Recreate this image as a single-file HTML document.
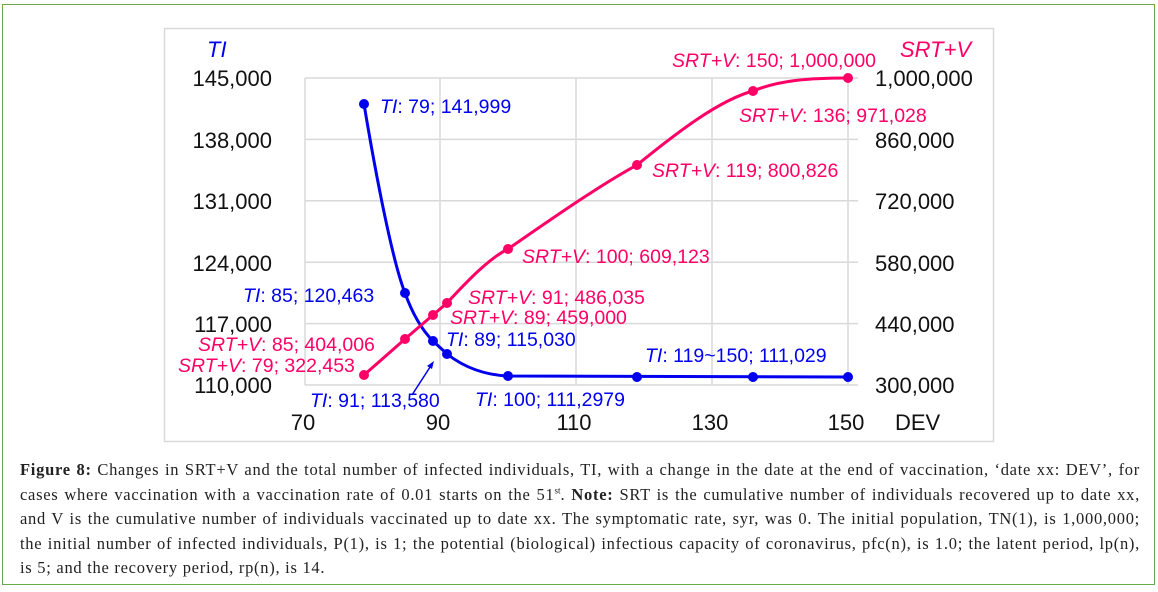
<!DOCTYPE html>
<html><head><meta charset="utf-8"><style>
body{margin:0;background:#fff;width:1158px;height:592px;overflow:hidden;position:relative;font-family:"Liberation Sans",sans-serif}
.frame{position:absolute;left:2px;top:4px;width:1151px;height:579px;border:1.5px solid #6aa84f}
.cap{position:absolute;left:20px;top:458px;width:1120px;font-family:"Liberation Serif",serif;font-size:16.5px;letter-spacing:0.72px;line-height:24.5px;text-align:justify;color:#222}
.cap sup{line-height:0;font-size:9px;letter-spacing:0}
</style></head><body>
<div class="frame"></div>
<svg width="1158" height="592" style="position:absolute;left:0;top:0">
<rect x="164.5" y="28.5" width="829" height="413" fill="#fff" stroke="#d9d9d9" stroke-width="1.5"/>
<g stroke="#d9d9d9" stroke-width="1.5">
<line x1="305" y1="78" x2="858" y2="78"/><line x1="305" y1="139.4" x2="858" y2="139.4"/><line x1="305" y1="200.8" x2="858" y2="200.8"/><line x1="305" y1="262.2" x2="858" y2="262.2"/><line x1="305" y1="323.6" x2="858" y2="323.6"/><line x1="305" y1="385" x2="858" y2="385"/>
<line x1="305" y1="78" x2="305" y2="385"/><line x1="440" y1="78" x2="440" y2="385"/><line x1="576" y1="78" x2="576" y2="385"/><line x1="712" y1="78" x2="712" y2="385"/><line x1="848" y1="78" x2="848" y2="385"/>
</g>
<g font-family="'Liberation Sans Narrow','Liberation Sans',sans-serif" font-size="22" fill="#111">
<text x="272" y="86" text-anchor="end">145,000</text><text x="272" y="148" text-anchor="end">138,000</text><text x="272" y="209" text-anchor="end">131,000</text><text x="272" y="271" text-anchor="end">124,000</text><text x="272" y="332" text-anchor="end">117,000</text><text x="272" y="393" text-anchor="end">110,000</text>
<text x="875" y="86">1,000,000</text><text x="875" y="148">860,000</text><text x="875" y="209">720,000</text><text x="875" y="271">580,000</text><text x="875" y="332">440,000</text><text x="875" y="393">300,000</text>
<text x="303" y="430" text-anchor="middle">70</text><text x="438" y="430" text-anchor="middle">90</text><text x="574" y="430" text-anchor="middle">110</text><text x="710" y="430" text-anchor="middle">130</text><text x="846" y="430" text-anchor="middle">150</text><text x="895" y="430">DEV</text>
</g>
<path fill="none" stroke="#0000ee" stroke-width="3" d="M364,104 C375,170 392,260 405,293 C414,318 425,333 433,341 L447,354 C465,368 485,375 508,376 L848,377"/>
<path fill="none" stroke="#ff0066" stroke-width="3" d="M364,375 L405,339 L433,315 L447,303 C470,278 490,258 508,249 C550,220 600,185 637,165 C680,130 720,100 753,91 C780,80 810,78 848,78"/>
<g fill="#0000ee"><circle cx="364" cy="104" r="5"/><circle cx="405" cy="293" r="5"/><circle cx="433" cy="341" r="5"/><circle cx="447" cy="354" r="5"/><circle cx="508" cy="376" r="5"/><circle cx="637" cy="377" r="5"/><circle cx="753" cy="377" r="5"/><circle cx="848" cy="377" r="5"/></g>
<g fill="#ff0066"><circle cx="364" cy="375" r="5"/><circle cx="405" cy="339" r="5"/><circle cx="433" cy="315" r="5"/><circle cx="447" cy="303" r="5"/><circle cx="508" cy="249" r="5"/><circle cx="637" cy="165" r="5"/><circle cx="753" cy="91" r="5"/><circle cx="848" cy="78" r="5"/></g>
<line x1="412" y1="395" x2="432" y2="364" stroke="#0000ee" stroke-width="1.5"/><polygon points="434,361 427,366 432,369" fill="#0000ee"/>
<g font-family="'Liberation Sans Narrow','Liberation Sans',sans-serif" font-size="19.5" fill="#0000ee">
<text x="207" y="57" font-style="italic" font-size="22">TI</text>
<text x="380" y="113"><tspan font-style="italic">TI</tspan>: 79; 141,999</text>
<text x="243" y="302"><tspan font-style="italic">TI</tspan>: 85; 120,463</text>
<text x="446" y="346"><tspan font-style="italic">TI</tspan>: 89; 115,030</text>
<text x="310" y="407"><tspan font-style="italic">TI</tspan>: 91; 113,580</text>
<text x="475" y="406"><tspan font-style="italic">TI</tspan>: 100; 111,2979</text>
<text x="645" y="362"><tspan font-style="italic">TI</tspan>: 119~150; 111,029</text>
</g>
<g font-family="'Liberation Sans Narrow','Liberation Sans',sans-serif" font-size="19.5" fill="#ff0066">
<text x="900" y="57" font-style="italic" font-size="22">SRT+V</text>
<text x="672" y="67"><tspan font-style="italic">SRT+V</tspan>: 150; 1,000,000</text>
<text x="739" y="122"><tspan font-style="italic">SRT+V</tspan>: 136; 971,028</text>
<text x="652" y="177"><tspan font-style="italic">SRT+V</tspan>: 119; 800,826</text>
<text x="522" y="263"><tspan font-style="italic">SRT+V</tspan>: 100; 609,123</text>
<text x="468" y="304"><tspan font-style="italic">SRT+V</tspan>: 91; 486,035</text>
<text x="450" y="324"><tspan font-style="italic">SRT+V</tspan>: 89; 459,000</text>
<text x="198" y="351"><tspan font-style="italic">SRT+V</tspan>: 85; 404,006</text>
<text x="178" y="372"><tspan font-style="italic">SRT+V</tspan>: 79; 322,453</text>
</g>
</svg>
<div class="cap"><b>Figure 8:</b> Changes in SRT+V and the total number of infected individuals, TI, with a change in the date at the end of vaccination, ‘date xx: DEV’, for cases where vaccination with a vaccination rate of 0.01 starts on the 51<sup>st</sup>. <b>Note:</b> SRT is the cumulative number of individuals recovered up to date xx, and V is the cumulative number of individuals vaccinated up to date xx. The symptomatic rate, syr, was 0. The initial population, TN(1), is 1,000,000; the initial number of infected individuals, P(1), is 1; the potential (biological) infectious capacity of coronavirus, pfc(n), is 1.0; the latent period, lp(n), is 5; and the recovery period, rp(n), is 14.</div>
</body></html>
